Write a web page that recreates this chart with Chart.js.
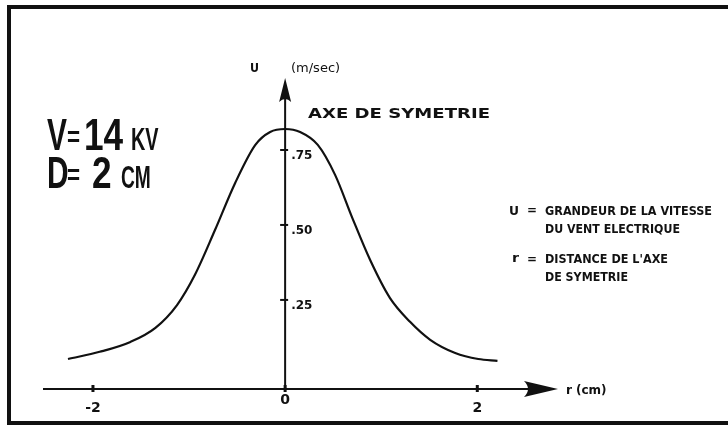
<!DOCTYPE html>
<html>
<head>
<meta charset="utf-8">
<script src="https://cdn.jsdelivr.net/npm/chart.js@4.4.1/dist/chart.umd.min.js"></script>
<style>
  html, body { margin: 0; padding: 0; background: #fff; }
  #box-chart { width: 728px; height: 429px; }
</style>
</head>
<body>
<div id="box-chart"><canvas id="chart-wind" width="728" height="429"></canvas></div>
<script>
// Electric wind speed profile, V = 14 kV, D = 2 cm
var radius = [-2.26, -1.93, -1.61, -1.35, -1.125, -0.94, -0.73, -0.52, -0.31, -0.156, 0, 0.156, 0.34, 0.52, 0.70, 0.885, 1.09, 1.30, 1.51, 1.77, 2.01, 2.21];
var speed  = [0.053, 0.077, 0.11, 0.157, 0.233, 0.333, 0.483, 0.64, 0.767, 0.81, 0.82, 0.81, 0.767, 0.667, 0.523, 0.383, 0.257, 0.177, 0.117, 0.073, 0.053, 0.047];
var xTicks = [-2, 0, 2];
var xTickLabels = ['-2', '0', '2'];
var yTicks = [0.25, 0.5, 0.75];
var yTickLabels = ['.25', '.50', '.75'];

var ink = '#111';

// squeezed lettering, one glyph group at a time
function narrow(ctx, text, x, y, size, sx) {
    ctx.save();
    ctx.font = 'bold ' + size + 'px "Liberation Sans", Arial, sans-serif';
    ctx.translate(x, y);
    ctx.scale(sx, 1);
    ctx.fillText(text, 0, 0);
    ctx.restore();
}

// block capitals stretched to run from x to x + width
function fitText(ctx, text, x, y, width, size) {
    ctx.save();
    ctx.font = 'bold ' + size + 'px "DejaVu Sans", sans-serif';
    var w = ctx.measureText(text).width;
    ctx.translate(x, y);
    ctx.scale(width / w, 1);
    ctx.fillText(text, 0, 0);
    ctx.restore();
}

var sketchAxes = {
    id: 'sketchAxes',
    afterDatasetsDraw: function (chart) {
        var ctx = chart.ctx;
        var area = chart.chartArea;
        var sx = chart.scales.x;
        var sy = chart.scales.y;
        var x0 = sx.getPixelForValue(0);
        var yAxis = area.bottom;

        ctx.save();
        ctx.fillStyle = ink;
        ctx.strokeStyle = ink;

        // frame
        ctx.lineWidth = 4;
        ctx.beginPath();
        ctx.moveTo(9, 424); ctx.lineTo(9, 6);
        ctx.moveTo(7, 7); ctx.lineTo(728, 7);
        ctx.moveTo(7, 423); ctx.lineTo(728, 423);
        ctx.stroke();

        // r axis with arrow
        ctx.lineWidth = 2;
        ctx.beginPath();
        ctx.moveTo(area.left, yAxis);
        ctx.lineTo(area.right - 20, yAxis);
        ctx.stroke();
        ctx.beginPath();
        ctx.moveTo(area.right, yAxis);
        ctx.lineTo(area.right - 34, yAxis - 8);
        ctx.quadraticCurveTo(area.right - 26, yAxis, area.right - 34, yAxis + 8);
        ctx.closePath();
        ctx.fill();

        // U axis with arrow
        ctx.beginPath();
        ctx.moveTo(x0, yAxis);
        ctx.lineTo(x0, area.top + 15);
        ctx.stroke();
        ctx.beginPath();
        ctx.moveTo(x0, area.top);
        ctx.lineTo(x0 - 6, area.top + 24);
        ctx.quadraticCurveTo(x0, area.top + 18, x0 + 6, area.top + 24);
        ctx.closePath();
        ctx.fill();

        // ticks on r
        ctx.lineWidth = 3;
        ctx.textAlign = 'center';
        ctx.textBaseline = 'middle';
        ctx.font = 'bold 14px "DejaVu Sans", sans-serif';
        xTicks.forEach(function (v, i) {
            var px = sx.getPixelForValue(v);
            ctx.beginPath();
            ctx.moveTo(px, yAxis - 4);
            ctx.lineTo(px, yAxis + 3);
            ctx.stroke();
            ctx.fillText(xTickLabels[i], px, yAxis + (v === 0 ? 11 : 19));
        });

        // ticks on U
        ctx.lineWidth = 2;
        ctx.textAlign = 'left';
        ctx.font = 'bold 12px "DejaVu Sans", sans-serif';
        yTicks.forEach(function (v, i) {
            var py = sy.getPixelForValue(v);
            ctx.beginPath();
            ctx.moveTo(x0 - 5, py);
            ctx.lineTo(x0 + 3, py);
            ctx.stroke();
            ctx.fillText(yTickLabels[i], x0 + 6, py + 6);
        });

        // axis titles
        ctx.textBaseline = 'alphabetic';
        fitText(ctx, 'U', 250, 72, 9, 12);
        ctx.font = '13px "DejaVu Sans", sans-serif';
        ctx.fillText('(m/sec)', 291, 72);
        fitText(ctx, 'r', area.right + 8, yAxis + 5, 6, 12);
        ctx.font = 'bold 12px "DejaVu Sans", sans-serif';
        ctx.fillText('(cm)', area.right + 18, yAxis + 5);
        fitText(ctx, 'AXE DE SYMETRIE', 308, 118, 182, 14);

        // operating conditions
        narrow(ctx, 'V', 47, 150, 44, 0.68);
        narrow(ctx, '=', 67, 146, 28, 0.8);
        narrow(ctx, '14', 84, 150, 44, 0.8);
        narrow(ctx, 'KV', 131, 150, 32, 0.62);
        narrow(ctx, 'D', 47, 188, 44, 0.68);
        narrow(ctx, '=', 67, 184, 28, 0.8);
        narrow(ctx, '2', 92, 188, 44, 0.8);
        narrow(ctx, 'CM', 121, 188, 32, 0.6);

        // legend
        fitText(ctx, 'U', 509, 215, 10, 13);
        fitText(ctx, '=', 527, 214, 10, 12);
        fitText(ctx, 'GRANDEUR DE LA VITESSE', 545, 215, 167, 13);
        fitText(ctx, 'DU VENT ELECTRIQUE', 545, 233, 135, 13);
        fitText(ctx, 'r', 512, 262, 7, 13);
        fitText(ctx, '=', 527, 263, 10, 12);
        fitText(ctx, 'DISTANCE DE L\'AXE', 545, 263, 123, 13);
        fitText(ctx, 'DE SYMETRIE', 545, 281, 83, 13);

        ctx.restore();
    }
};

function handleChartWind() {
    var chartWind = document.getElementById('chart-wind').getContext('2d');
    var points = radius.map(function (r, i) { return { x: r, y: speed[i] }; });
    new Chart(chartWind, {
        type: 'line',
        data: {
            datasets: [{
                data: points,
                borderColor: ink,
                borderWidth: 2.2,
                pointRadius: 0,
                fill: false,
                cubicInterpolationMode: 'monotone',
                clip: false
            }]
        },
        options: {
            responsive: false,
            animation: false,
            devicePixelRatio: 1,
            layout: { padding: { left: 43, right: 170, top: 78, bottom: 40 } },
            scales: {
                x: { type: 'linear', min: -2.52, max: 2.84, display: false },
                y: { type: 'linear', min: -0.047, max: 0.99, display: false }
            },
            plugins: { legend: { display: false }, tooltip: { enabled: false } }
        },
        plugins: [sketchAxes]
    });
}
handleChartWind();
</script>
</body>
</html>
